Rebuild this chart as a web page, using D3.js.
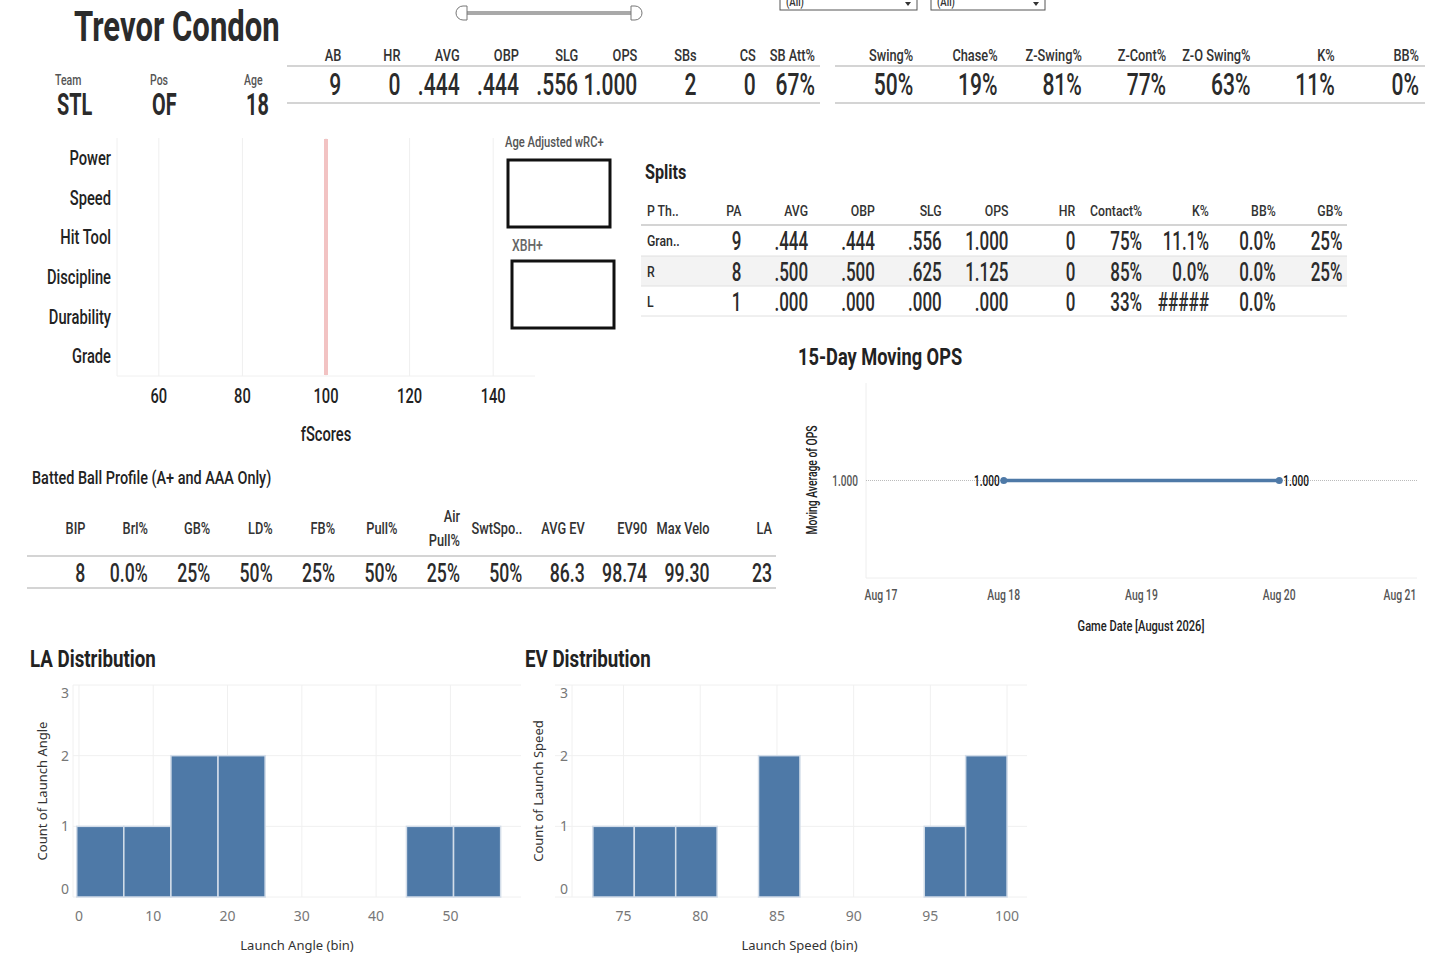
<!DOCTYPE html>
<html>
<head>
<meta charset="utf-8">
<script src="https://cdn.jsdelivr.net/npm/d3@7"></script>
<style>
  body { margin: 0; background: #fff; }
  text { font-family: Roboto, 'Liberation Sans', sans-serif; fill: #333; font-weight: 500; }
  text.sans { font-family: 'Noto Sans', 'Open Sans', sans-serif; font-weight: normal; }
</style>
</head>
<body>
<svg id="dash"></svg>
<script>
// ---- data ----
const playerName = 'Trevor Condon';
const bioLabels = ['Team', 'Pos', 'Age'];
const bioValues = ['STL', 'OF', '18'];

const statHeaders = ['AB', 'HR', 'AVG', 'OBP', 'SLG', 'OPS', 'SBs', 'CS', 'SB Att%'];
const statValues = ['9', '0', '.444', '.444', '.556', '1.000', '2', '0', '67%'];

const discHeaders = ['Swing%', 'Chase%', 'Z-Swing%', 'Z-Cont%', 'Z-O Swing%', 'K%', 'BB%'];
const discValues = ['50%', '19%', '81%', '77%', '63%', '11%', '0%'];

const toolNames = ['Power', 'Speed', 'Hit Tool', 'Discipline', 'Durability', 'Grade'];
const fscoreTicks = [60, 80, 100, 120, 140];
const fscoreRef = 100;

const splitHeaders = ['P Th..', 'PA', 'AVG', 'OBP', 'SLG', 'OPS', 'HR', 'Contact%', 'K%', 'BB%', 'GB%'];
const splitRows = [
  ['Gran..', '9', '.444', '.444', '.556', '1.000', '0', '75%', '11.1%', '0.0%', '25%'],
  ['R', '8', '.500', '.500', '.625', '1.125', '0', '85%', '0.0%', '0.0%', '25%'],
  ['L', '1', '.000', '.000', '.000', '.000', '0', '33%', '#####', '0.0%', '']
];

const bbHeaders = ['BIP', 'Brl%', 'GB%', 'LD%', 'FB%', 'Pull%', 'Air\nPull%', 'SwtSpo..', 'AVG EV', 'EV90', 'Max Velo', 'LA'];
const bbValues = ['8', '0.0%', '25%', '50%', '25%', '50%', '25%', '50%', '86.3', '98.74', '99.30', '23'];

const opsDates = ['2026-08-18', '2026-08-20'];
const opsValues = [1.0, 1.0];
const opsTickDates = ['2026-08-17', '2026-08-18', '2026-08-19', '2026-08-20', '2026-08-21'];

const laBinStart = [-0.3, 6.04, 12.38, 18.72, 44.08, 50.42];
const laCounts = [1, 1, 2, 2, 1, 1];
const laBinSize = 6.34;
const laTicks = [0, 10, 20, 30, 40, 50];

const evBinStart = [73.0, 75.7, 78.4, 83.8, 94.6, 97.3];
const evCounts = [1, 1, 1, 2, 1, 2];
const evBinSize = 2.7;
const evTicks = [75, 80, 85, 90, 95, 100];

const countTicks = [0, 1, 2, 3];

// ---- canvas ----
const SX = 0.8;    // horizontal squeeze for small condensed labels
const SXV = 0.68;  // squeeze for the big numbers
const svg = d3.select('#dash').attr('width', 1456).attr('height', 962);

// put a (condensed) text at x,y; x, y and sx may be functions of the datum
function place(sel, x, y, sx = SX, rot = 0) {
  const f = v => (typeof v === 'function' ? v : () => v);
  const fx = f(x), fy = f(y), fs = f(sx);
  return sel.attr('transform', (d, i) =>
    `translate(${fx(d, i)},${fy(d, i)})` + (rot ? ` rotate(${rot})` : '') + ` scale(${fs(d, i)},1)`);
}
function label(parent, x, y, str, size, o = {}) {
  const t = parent.append('text')
    .attr('text-anchor', o.anchor || 'start')
    .style('font-size', size + 'px')
    .style('font-weight', o.bold ? 'bold' : 500)
    .style('fill', o.fill || '#333')
    .text(str);
  return place(t, x, y, o.sx || SX, o.rot || 0);
}

// ---- header ----
label(svg, 74, 41, playerName, 42, { bold: true, fill: '#2b2b2b', sx: 0.74 });

// slider
svg.append('line').attr('x1', 464).attr('x2', 634).attr('y1', 13).attr('y2', 13)
  .attr('stroke', '#a9a9a9').attr('stroke-width', 4);
svg.append('path').attr('d', 'M467,6 L463,6 A7,7 0 0 0 463,20 L467,20 Z')
  .attr('fill', '#fff').attr('stroke', '#777');
svg.append('path').attr('d', 'M631,6 L635,6 A7,7 0 0 1 635,20 L631,20 Z')
  .attr('fill', '#fff').attr('stroke', '#777');

// dropdowns (cut at the top edge, as in the picture)
[[780, 137], [931, 114]].forEach(([x, w]) => {
  svg.append('rect').attr('x', x).attr('y', -8).attr('width', w).attr('height', 18)
    .attr('fill', '#fff').attr('stroke', '#555');
  label(svg, x + 6, 6, '(All)', 12, { fill: '#333' });
  svg.append('path').attr('d', `M${x + w - 12},2 l6,0 l-3,4 z`).attr('fill', '#333');
});

// bio
const bioX = d3.scaleOrdinal().domain(bioLabels).range([55, 150, 244]);
place(svg.selectAll('.bioLabel').data(bioLabels).join('text')
  .style('font-size', '14px').style('fill', '#555').text(d => d), d => bioX(d), 85, 0.75);
place(svg.selectAll('.bioValue').data(bioValues).join('text')
  .style('font-size', '31px').style('font-weight', 'bold').style('fill', '#2b2b2b').text(d => d),
  (d, i) => bioX(bioLabels[i]) + 2, 115, 0.64);

// stat strip helper
function statStrip(headers, values, x0, x1, pad) {
  const xs = d3.scaleBand().domain(headers).range([x0, x1]);
  const g = svg.append('g');
  place(g.selectAll('.h').data(headers).join('text')
    .attr('text-anchor', 'end').style('font-size', '16px').text(d => d),
    d => xs(d) + xs.bandwidth() - pad, 61);
  place(g.selectAll('.v').data(values).join('text')
    .attr('text-anchor', 'end').style('font-size', '31px').style('fill', '#2b2b2b').text(d => d),
    (d, i) => xs(headers[i]) + xs.bandwidth() - pad, 95, SXV);
  [66, 103].forEach(y => g.append('line').attr('x1', x0).attr('x2', x1).attr('y1', y).attr('y2', y)
    .attr('stroke', '#d4d4d4').attr('stroke-width', 2));
}
statStrip(statHeaders, statValues, 287, 820, 5);
statStrip(discHeaders, discValues, 835, 1425, 6);

// ---- fScores ----
const fsX = d3.scaleLinear().domain([50, 150]).range([117, 535]);
const fsY = d3.scaleBand().domain(toolNames).range([138, 376]);
const fs = svg.append('g');
fs.selectAll('.grid').data(fscoreTicks).join('line')
  .attr('x1', d => fsX(d)).attr('x2', d => fsX(d)).attr('y1', 138).attr('y2', 376)
  .attr('stroke', '#efefef').attr('stroke-width', 1);
fs.append('line').attr('x1', 117).attr('x2', 117).attr('y1', 138).attr('y2', 376).attr('stroke', '#f0f0f0');
fs.append('line').attr('x1', 117).attr('x2', 535).attr('y1', 376).attr('y2', 376).attr('stroke', '#f0f0f0');
fs.append('line').attr('x1', fsX(fscoreRef)).attr('x2', fsX(fscoreRef)).attr('y1', 139).attr('y2', 375)
  .attr('stroke', '#f2c3c3').attr('stroke-width', 4);
place(fs.selectAll('.tool').data(toolNames).join('text')
  .attr('text-anchor', 'end').style('font-size', '21px').style('fill', '#222').text(d => d),
  111, d => fsY(d) + fsY.bandwidth() / 2 + 7, 0.7);
place(fs.selectAll('.tick').data(fscoreTicks).join('text')
  .attr('text-anchor', 'middle').style('font-size', '21px').style('fill', '#222').text(d => d),
  d => fsX(d), 403, 0.7);
label(fs, fsX(100), 441, 'fScores', 21, { anchor: 'middle', fill: '#222', sx: 0.7 });

// boxes
label(svg, 505, 147, 'Age Adjusted wRC+', 14, { fill: '#555' });
svg.append('rect').attr('x', 508).attr('y', 160).attr('width', 102).attr('height', 67)
  .attr('fill', 'none').attr('stroke', '#111').attr('stroke-width', 3);
label(svg, 512, 251, 'XBH+', 17, { fill: '#666', sx: 0.72 });
svg.append('rect').attr('x', 512).attr('y', 261).attr('width', 102).attr('height', 67)
  .attr('fill', 'none').attr('stroke', '#111').attr('stroke-width', 3);

// ---- splits ----
label(svg, 645, 179, 'Splits', 21, { bold: true, fill: '#222', sx: 0.77 });
const spX = d3.scaleBand().domain(splitHeaders.slice(1)).range([678.5, 1346.5]);
const spRight = h => spX(h) + spX.bandwidth() - 4;
const rowY = [256, 286, 316];
svg.append('rect').attr('x', 641).attr('y', rowY[0]).attr('width', 706).attr('height', 30).attr('fill', '#f3f3f3');
svg.append('line').attr('x1', 641).attr('x2', 1347).attr('y1', 225).attr('y2', 225).attr('stroke', '#d4d4d4').attr('stroke-width', 2);
rowY.forEach(y => svg.append('line').attr('x1', 641).attr('x2', 1347).attr('y1', y).attr('y2', y)
  .attr('stroke', '#e0e0e0').attr('stroke-width', 1));
place(svg.selectAll('.sph').data(splitHeaders).join('text')
  .attr('text-anchor', (d, i) => i === 0 ? 'start' : 'end')
  .style('font-size', '15px').text(d => d),
  (d, i) => i === 0 ? 647 : spRight(d), 216, 0.82);
splitRows.forEach((row, r) => {
  place(svg.selectAll('.spr' + r).data(row).join('text')
    .attr('text-anchor', (d, i) => i === 0 ? 'start' : 'end')
    .style('font-size', (d, i) => i === 0 ? '15px' : '25px')
    .style('fill', '#2b2b2b')
    .text(d => d),
    (d, i) => i === 0 ? 647 : spRight(splitHeaders[i]),
    (d, i) => (i === 0 ? 246 : 250) + r * 30.5,
    (d, i) => i === 0 ? 0.82 : SXV);
});

// ---- batted ball ----
label(svg, 32, 484, 'Batted Ball Profile (A+ and AAA Only)', 19, { fill: '#222', sx: 0.76 });
const bbX = d3.scaleBand().domain(bbHeaders).range([27, 776]);
const bbRight = h => bbX(h) + bbX.bandwidth() - 4;
bbHeaders.forEach(h => {
  const lines = h.split('\n');
  lines.forEach((l, k) => {
    label(svg, bbRight(h), lines.length === 1 ? 534 : 522 + k * 24, l, 16, { anchor: 'end' });
  });
});
place(svg.selectAll('.bbv').data(bbValues).join('text')
  .attr('text-anchor', 'end').style('font-size', '26px').style('fill', '#2b2b2b').text(d => d),
  (d, i) => bbRight(bbHeaders[i]), 582, SXV);
[556, 588].forEach(y => svg.append('line').attr('x1', 27).attr('x2', 776).attr('y1', y).attr('y2', y)
  .attr('stroke', '#d4d4d4').attr('stroke-width', 2));

// ---- 15-day moving OPS ----
const parse = d3.timeParse('%Y-%m-%d');
const opsData = opsDates.map((d, i) => ({ date: parse(d), value: opsValues[i] }));
const opX = d3.scaleTime().domain([parse('2026-08-17'), parse('2026-08-21')]).range([866, 1417]);
const opY = d3.scaleLinear().domain([0.9, 1.1]).range([578, 383]);
const op = svg.append('g');
label(op, 798, 365, '15-Day Moving OPS', 24, { bold: true, fill: '#222', sx: 0.76 });
op.append('line').attr('x1', 866).attr('x2', 866).attr('y1', 383).attr('y2', 578).attr('stroke', '#eee');
op.append('line').attr('x1', 866).attr('x2', 1417).attr('y1', 578).attr('y2', 578).attr('stroke', '#eee');
op.append('line').attr('x1', 866).attr('x2', 1417).attr('y1', opY(1)).attr('y2', opY(1))
  .attr('stroke', '#bbb').attr('stroke-dasharray', '1,1');
label(op, 858, opY(1) + 5, d3.format('.3f')(1), 14, { anchor: 'end', fill: '#555', sx: 0.72 });
const opsTicks = opsTickDates.map(parse);
place(op.selectAll('.xt').data(opsTicks).join('text')
  .attr('text-anchor', 'middle').style('font-size', '14px').style('fill', '#555')
  .text(d3.timeFormat('%b %-d')),
  (d, i) => opX(d) + (i === 0 ? 15 : i === opsTicks.length - 1 ? -17 : 0), 600, 0.74);
label(op, 1141, 631, 'Game Date [August 2026]', 15, { anchor: 'middle', fill: '#222', sx: 0.74 });
label(op, 817, 480, 'Moving Average of OPS', 14, { anchor: 'middle', fill: '#222', rot: -90, sx: 0.74 });
op.append('path').datum(opsData)
  .attr('d', d3.line().x(d => opX(d.date)).y(d => opY(d.value)))
  .attr('fill', 'none').attr('stroke', '#4e79a7').attr('stroke-width', 3.5);
op.selectAll('.pt').data(opsData).join('circle')
  .attr('cx', d => opX(d.date)).attr('cy', d => opY(d.value)).attr('r', 3.5).attr('fill', '#4e79a7');
place(op.selectAll('.pl').data(opsData).join('text')
  .attr('text-anchor', (d, i) => i === 0 ? 'end' : 'start')
  .style('font-size', '14px').style('fill', '#111')
  .text(d => d3.format('.3f')(d.value)),
  (d, i) => opX(d.date) + (i === 0 ? -4 : 4), d => opY(d.value) + 5, 0.72);

// ---- histograms ----
function histogram(cfg) {
  const g = svg.append('g');
  const x = d3.scaleLinear().domain(cfg.domain).range([cfg.x0, cfg.x1]);
  const y = d3.scaleLinear().domain([0, 3]).range([897, 685]);
  label(g, cfg.titleX, 667, cfg.title, 24, { bold: true, fill: '#222', sx: 0.78 });
  g.selectAll('.hg').data(countTicks).join('line')
    .attr('x1', cfg.gridX0).attr('x2', cfg.x1).attr('y1', d => y(d)).attr('y2', d => y(d))
    .attr('stroke', '#f0f0f0');
  g.selectAll('.vg').data(cfg.ticks).join('line')
    .attr('x1', d => x(d)).attr('x2', d => x(d)).attr('y1', 685).attr('y2', 897)
    .attr('stroke', '#f0f0f0');
  g.append('line').attr('x1', cfg.x0).attr('x2', cfg.x0).attr('y1', 685).attr('y2', 897).attr('stroke', '#f0f0f0');
  const bins = cfg.starts.map((s, i) => ({ s, c: cfg.counts[i] }));
  g.selectAll('.bar').data(bins).join('rect')
    .attr('x', d => x(d.s)).attr('width', d => x(d.s + cfg.size) - x(d.s))
    .attr('y', d => y(d.c)).attr('height', d => y(0) - y(d.c))
    .attr('fill', '#4e79a7').attr('stroke', '#d3dde9').attr('stroke-width', 1.5);
  g.selectAll('.yl').data(countTicks).join('text')
    .attr('class', 'sans').attr('x', cfg.x0 - 4)
    .attr('y', d => y(d) + 5 + (d === 3 ? 8 : d === 0 ? -8 : 0))
    .attr('text-anchor', 'end').style('font-size', '14px').style('fill', '#777')
    .text(d => d);
  g.selectAll('.xl').data(cfg.ticks).join('text')
    .attr('class', 'sans').attr('x', d => x(d)).attr('y', 921)
    .attr('text-anchor', 'middle').style('font-size', '14px').style('fill', '#777')
    .text(d => d);
  g.append('text').attr('class', 'sans').attr('x', (cfg.x0 + cfg.x1) / 2).attr('y', 950)
    .attr('text-anchor', 'middle').style('font-size', '13px').style('fill', '#333').text(cfg.xTitle);
  g.append('text').attr('class', 'sans')
    .attr('transform', `translate(${cfg.yTitleX},791) rotate(-90)`)
    .attr('text-anchor', 'middle').style('font-size', '13px').style('fill', '#333').text(cfg.yTitle);
}

histogram({
  title: 'LA Distribution', titleX: 30, x0: 73, x1: 521, gridX0: 73,
  domain: [-0.8, 59.5], ticks: laTicks, starts: laBinStart, counts: laCounts, size: laBinSize,
  xTitle: 'Launch Angle (bin)', yTitle: 'Count of Launch Angle', yTitleX: 47
});
histogram({
  title: 'EV Distribution', titleX: 525, x0: 572, x1: 1027, gridX0: 555,
  domain: [71.64, 101.3], ticks: evTicks, starts: evBinStart, counts: evCounts, size: evBinSize,
  xTitle: 'Launch Speed (bin)', yTitle: 'Count of Launch Speed', yTitleX: 543
});
</script>
</body>
</html>
